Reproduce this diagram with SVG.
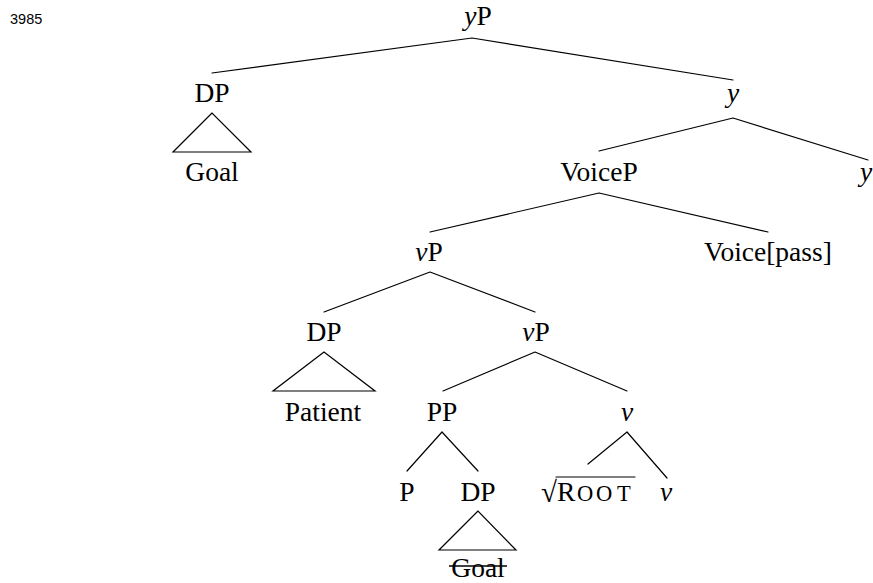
<svg xmlns="http://www.w3.org/2000/svg" width="873" height="583" viewBox="0 0 873 583">
  <style>
    .lbl { font-size: 27.5px; fill: #000; text-anchor: middle; }
    .it { font-style: italic; }
    .sc { font-size: 22.5px; }
    .num { font-size: 14.5px; fill: #000; }
    .edge { stroke: #000; stroke-width: 1.2; fill: none; stroke-linecap: round; }
  </style>
  <rect width="873" height="583" fill="#fff"/>

  <text class="num" font-family="Liberation Sans" x="10" y="23.5">3985</text>

  <!-- branches -->
  <g id="connectors">
    <path class="edge" d="M472,38 L212,73 M472,38 L733,80"/>
    <path class="edge" d="M733,118 L599,151 M733,118 L868,160"/>
    <path class="edge" d="M599,193 L430,232 M599,193 L768,232"/>
    <path class="edge" d="M430,272 L324,312 M430,272 L535,312"/>
    <path class="edge" d="M535,352 L443,391 M535,352 L627,391"/>
    <path class="edge" d="M442,432 L407,471 M442,432 L478,471"/>
    <path class="edge" d="M627,432 L588,464 M627,432 L667,478"/>
    <!-- roof triangles -->
    <path class="edge" d="M212,113 L173,152 L251,152 Z"/>
    <path class="edge" d="M324,352 L273,391 L375,391 Z"/>
    <path class="edge" d="M478,511 L439,550 L516,550 Z"/>
  </g>

  <g font-family="Liberation Serif">
    <g id="yP"><text class="lbl" x="478" y="25"><tspan class="it">y</tspan>P</text></g>
    <g id="DP-goal"><text class="lbl" x="212" y="102">DP</text></g>
    <g id="goal"><text class="lbl" x="212" y="181">Goal</text></g>
    <g id="ybar"><text class="lbl it" x="733" y="102">y</text></g>
    <g id="VoiceP"><text class="lbl" x="599" y="181">VoiceP</text></g>
    <g id="y-head"><text class="lbl it" x="866" y="181">y</text></g>
    <g id="vP-upper"><text class="lbl" x="429" y="261"><tspan class="it">v</tspan>P</text></g>
    <g id="voice-pass"><text class="lbl" x="768" y="261">Voice[pass]</text></g>
    <g id="DP-patient"><text class="lbl" x="324" y="341">DP</text></g>
    <g id="vP-lower"><text class="lbl" x="536" y="341"><tspan class="it">v</tspan>P</text></g>
    <g id="patient"><text class="lbl" x="323" y="421">Patient</text></g>
    <g id="PP"><text class="lbl" x="442" y="421">PP</text></g>
    <g id="vbar"><text class="lbl it" x="627" y="421">v</text></g>
    <g id="P"><text class="lbl" x="407" y="501">P</text></g>
    <g id="DP-lower"><text class="lbl" x="478" y="501">DP</text></g>
    <g id="root">
      <text class="lbl" x="549" y="502" style="font-size:29px">√</text>
      <line class="edge" x1="556" y1="477" x2="635" y2="477"/>
      <text class="lbl" style="text-anchor:start" x="557" y="501">R<tspan class="sc" x="577">O</tspan><tspan class="sc" x="596">O</tspan><tspan class="sc" x="617">T</tspan></text>
    </g>
    <g id="v-head"><text class="lbl it" x="666" y="501">v</text></g>
    <g id="goal-deleted">
      <text class="lbl" x="478" y="577">Goal</text>
      <line stroke="#000" stroke-width="1.3" x1="449" y1="566" x2="507" y2="566"/>
    </g>
  </g>
</svg>
